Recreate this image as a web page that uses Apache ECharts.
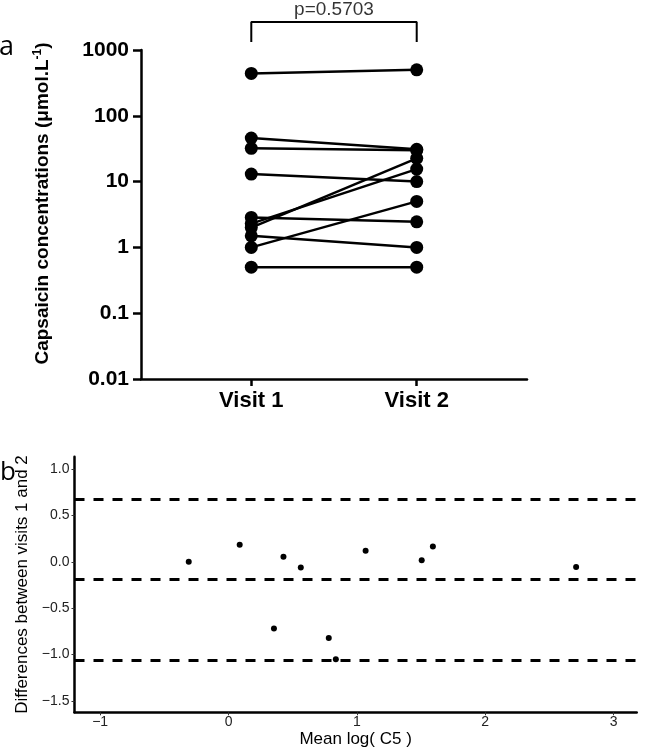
<!DOCTYPE html>
<html>
<head>
<meta charset="utf-8">
<script src="https://cdn.jsdelivr.net/npm/echarts@6/dist/echarts.min.js"></script>
<style>
  html, body { margin: 0; padding: 0; background: #fff; }
  #chart { width: 646px; height: 755px; }
</style>
</head>
<body>
<div id="chart"></div>
<script>
// panel a: paired concentrations, visit 1 -> visit 2
const visitLabels = ['Visit 1', 'Visit 2']
const visit1 = [440, 46, 32, 13, 2.85, 2.3, 2.0, 1.5, 1.0, 0.5]
const visit2 = [500, 31, 30, 10, 2.45, 15.5, 22.6, 1.0, 5.0, 0.5]
const pText = 'p=0.5703'
const bracketLow = 1322
const bracketHigh = 2655

// panel b: Bland-Altman
const baMean = [-0.31, 0.087, 0.428, 0.563, 0.354, 0.781, 0.836, 1.068, 1.505, 1.592, 2.708]
const baDiff = [0.0, 0.185, 0.054, -0.06, -0.72, -0.82, -1.05, 0.12, 0.018, 0.164, -0.057]
const baLines = [0.672, -0.193, -1.064]
const baXTicks = [-1, 0, 1, 2, 3]
const baYTicks = [-1.5, -1.0, -0.5, 0.0, 0.5, 1.0]

const minus = s => s.replace('-', '\u2212')
const sans = '"Liberation Sans", Arial, sans-serif'

const chart = echarts.init(document.getElementById('chart'))

const pairSeries = visit1.map((v, i) => ({
  type: 'line',
  xAxisIndex: 0,
  yAxisIndex: 0,
  data: [[1, v], [2, visit2[i]]],
  symbol: 'circle',
  symbolSize: 13,
  itemStyle: { color: '#000' },
  lineStyle: { color: '#000', width: 2.5 },
  silent: true
}))

const option = {
  animation: false,
  graphic: [
    { type: 'text', x: -1, y: 47, style: { text: 'a', fontSize: 27, fontFamily: 'Open Sans', fill: '#000', verticalAlign: 'middle' } },
    { type: 'text', x: 0, y: 473, style: { text: 'b', fontSize: 26, fontFamily: 'Open Sans', fill: '#000', verticalAlign: 'middle' } }
  ],
  grid: [
    { left: 141, right: 119, top: 50, bottom: 376 },
    { left: 74.5, right: 9.3, top: 456.7, bottom: 42.7 }
  ],
  xAxis: [
    {
      type: 'value',
      gridIndex: 0,
      min: 1 / 3,
      max: 8 / 3,
      splitLine: { show: false },
      axisLine: { show: true, onZero: false, lineStyle: { color: '#000', width: 2.5 } },
      axisTick: { show: true, customValues: [1, 2], length: 7, lineStyle: { color: '#000', width: 2.5 } },
      axisLabel: {
        customValues: [1, 2],
        formatter: v => visitLabels[Math.round(v) - 1],
        fontSize: 22,
        fontWeight: 'bold',
        fontFamily: sans,
        color: '#000',
        margin: 11
      }
    },
    {
      type: 'value',
      gridIndex: 1,
      min: -1.2,
      max: 3.18,
      splitLine: { show: false },
      axisLine: { show: true, onZero: false, lineStyle: { color: '#000', width: 2.5 } },
      axisTick: { show: true, customValues: baXTicks, length: 3, lineStyle: { color: '#333', width: 1 } },
      axisLabel: {
        customValues: baXTicks,
        formatter: v => minus(String(v)),
        fontSize: 14,
        fontFamily: sans,
        color: '#222',
        margin: 3
      },
      name: 'Mean log( C5 )',
      nameLocation: 'middle',
      nameGap: 19,
      nameTextStyle: { fontSize: 17, fontFamily: sans, color: '#000' }
    }
  ],
  yAxis: [
    {
      type: 'log',
      logBase: 10,
      gridIndex: 0,
      min: 0.01,
      max: 1000,
      splitNumber: 5,
      splitLine: { show: false },
      axisLine: { show: true, onZero: false, lineStyle: { color: '#000', width: 2.5 } },
      axisTick: { show: true, length: 8, lineStyle: { color: '#000', width: 2.5 } },
      axisLabel: {
        formatter: v => String(parseFloat(Number(v).toPrecision(2))),
        fontSize: 21,
        fontWeight: 'bold',
        fontFamily: sans,
        color: '#000',
        margin: 12
      },
      name: 'Capsaicin concentrations (\u03bcmol.L{sup|-1})',
      nameLocation: 'middle',
      nameGap: 88,
      nameTextStyle: {
        fontSize: 19,
        fontWeight: 'bold',
        fontFamily: sans,
        color: '#000',
        padding: [0, 0, 0, 22],
        rich: {
          sup: { fontSize: 12, fontWeight: 'bold', fontFamily: sans, color: '#000', verticalAlign: 'top', padding: [0, 0, 9, 0] }
        }
      }
    },
    {
      type: 'value',
      gridIndex: 1,
      min: -1.622,
      max: 1.133,
      splitLine: { show: false },
      axisLine: { show: true, onZero: false, lineStyle: { color: '#000', width: 2.5 } },
      axisTick: { show: true, customValues: baYTicks, length: 3, lineStyle: { color: '#333', width: 1 } },
      axisLabel: {
        customValues: baYTicks,
        formatter: v => minus(Number(v).toFixed(1)),
        fontSize: 14,
        fontFamily: sans,
        color: '#222',
        margin: 5
      },
      name: 'Differences between visits 1 and 2',
      nameLocation: 'middle',
      nameGap: 34,
      nameTextStyle: { fontSize: 17, fontFamily: sans, color: '#000' }
    }
  ],
  series: [
    ...pairSeries,
    {
      // significance bracket above the two visits
      type: 'line',
      xAxisIndex: 0,
      yAxisIndex: 0,
      data: [[1, bracketLow], [1, bracketHigh], [2, bracketHigh], [2, bracketLow]],
      symbol: 'none',
      clip: false,
      lineStyle: { color: '#000', width: 2 },
      silent: true
    },
    {
      type: 'scatter',
      xAxisIndex: 0,
      yAxisIndex: 0,
      data: [[1.5, bracketHigh]],
      symbolSize: 0,
      clip: false,
      label: {
        show: true,
        position: 'top',
        distance: 3,
        formatter: pText,
        fontSize: 19,
        fontFamily: sans,
        color: '#000'
      },
      silent: true
    },
    {
      type: 'scatter',
      xAxisIndex: 1,
      yAxisIndex: 1,
      data: baMean.map((m, i) => [m, baDiff[i]]),
      symbolSize: 6,
      itemStyle: { color: '#000', opacity: 1 },
      silent: true,
      markLine: {
        silent: true,
        symbol: ['none', 'none'],
        label: { show: false },
        lineStyle: { color: '#000', width: 3, type: [10, 9] },
        data: baLines.map(y => ({ yAxis: y }))
      }
    }
  ]
}

chart.setOption(option)
</script>
</body>
</html>
